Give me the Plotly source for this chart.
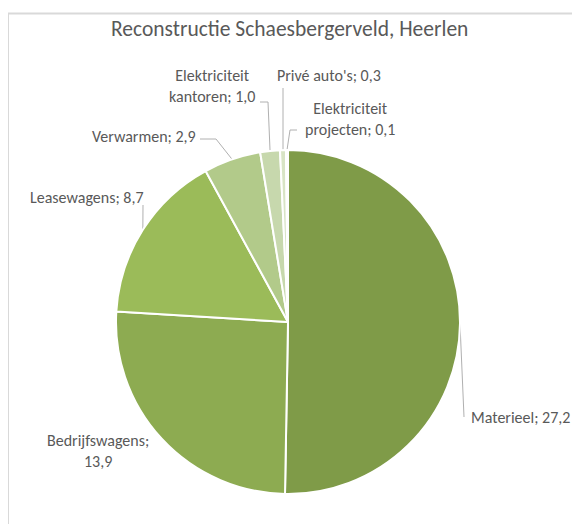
import math
import plotly.graph_objects as go

# ---- data ----
categories = ["Materieel", "Bedrijfswagens", "Leasewagens", "Verwarmen",
              "Elektriciteit kantoren", "Privé auto's", "Elektriciteit projecten"]
values = [27.2, 13.9, 8.7, 2.9, 1.0, 0.3, 0.1]
label_texts = ["Materieel; 27,2", "Bedrijfswagens;<br>13,9", "Leasewagens; 8,7",
               "Verwarmen; 2,9", "Elektriciteit<br>kantoren; 1,0",
               "Privé auto's; 0,3", "Elektriciteit<br>projecten; 0,1"]
title_text = "Reconstructie Schaesbergerveld, Heerlen"

# ---- style / layout ----
OFF = 8  # page body margin
W, H = 580 - OFF, 524 - OFF
CX, CY, R = 288.0, 322.0, 172.0   # page pixel coords
colors = ["#7f9b48", "#8dab51", "#9bbb59", "#b2ca8a", "#c7d8ad", "#d8e4c5", "#e5eddb"]
FONT = "Carlito, Lato, 'Liberation Sans', sans-serif"
TXT = "#595959"
LINE = "#b0b0b0"

label_pos = [
    dict(x=469, y=417, xanchor="left", align="left"),
    dict(x=98, y=451, xanchor="center", align="center"),
    dict(x=87, y=197, xanchor="center", align="center"),
    dict(x=144, y=136, xanchor="center", align="center"),
    dict(x=212, y=86, xanchor="center", align="center"),
    dict(x=329, y=75, xanchor="center", align="center"),
    dict(x=350, y=119, xanchor="center", align="center"),
]
leader_start = [(464, 417), None, (143, 205), (200, 139), (260, 102), (283, 88), (297, 130)]
leader_elbow = [(464, 417), None, (143, 205), (216, 139), (268, 102), (283, 88), (290, 130)]

total = sum(values)
fig = go.Figure()
fig.add_trace(go.Pie(
    labels=categories, values=values, sort=False, direction="clockwise",
    rotation=0, textinfo="none", hoverinfo="label+value",
    marker=dict(colors=colors, line=dict(color="white", width=2)),
    domain=dict(x=[(CX - R - OFF) / W, (CX + R - OFF) / W],
                y=[(524 - CY - R) / H, (524 - CY + R) / H]),
    showlegend=False,
))

cum = 0.0
for i, v in enumerate(values):
    mid = (cum + v / 2) / total * 2 * math.pi
    cum += v
    if leader_start[i] is None:
        continue
    ex = CX + R * math.sin(mid)
    ey = CY - R * math.cos(mid)
    sx, sy = leader_start[i]
    bx, by = leader_elbow[i]
    fig.add_trace(go.Scatter(x=[sx, bx, ex], y=[sy, by, ey], mode="lines",
                             line=dict(color=LINE, width=1), hoverinfo="skip",
                             showlegend=False, xaxis="x", yaxis="y"))

annotations = []
for t, p in zip(label_texts, label_pos):
    annotations.append(dict(x=p["x"], y=p["y"], xref="x", yref="y", text=t,
                            showarrow=False, xanchor=p["xanchor"], yanchor="middle",
                            align=p["align"], font=dict(family=FONT, size=16, color=TXT)))
annotations.append(dict(x=289, y=29, xref="x", yref="y", text=title_text, showarrow=False,
                        xanchor="center", yanchor="middle",
                        font=dict(family=FONT, size=21.5, color=TXT)))

fig.update_layout(
    width=W, height=H, autosize=False,
    margin=dict(l=0, r=0, t=0, b=0),
    paper_bgcolor="white", plot_bgcolor="rgba(0,0,0,0)",
    xaxis=dict(range=[OFF, OFF + W], visible=False, fixedrange=True, domain=[0, 1]),
    yaxis=dict(range=[OFF + H, OFF], visible=False, fixedrange=True, domain=[0, 1]),
    annotations=annotations,
    shapes=[dict(type="rect", xref="x", yref="y", x0=8, y0=13.5, x1=600, y1=560,
                 line=dict(color="#d9d9d9", width=2), fillcolor="rgba(0,0,0,0)", layer="below")],
)

fig.write_html("out.html", config={"displayModeBar": False})
